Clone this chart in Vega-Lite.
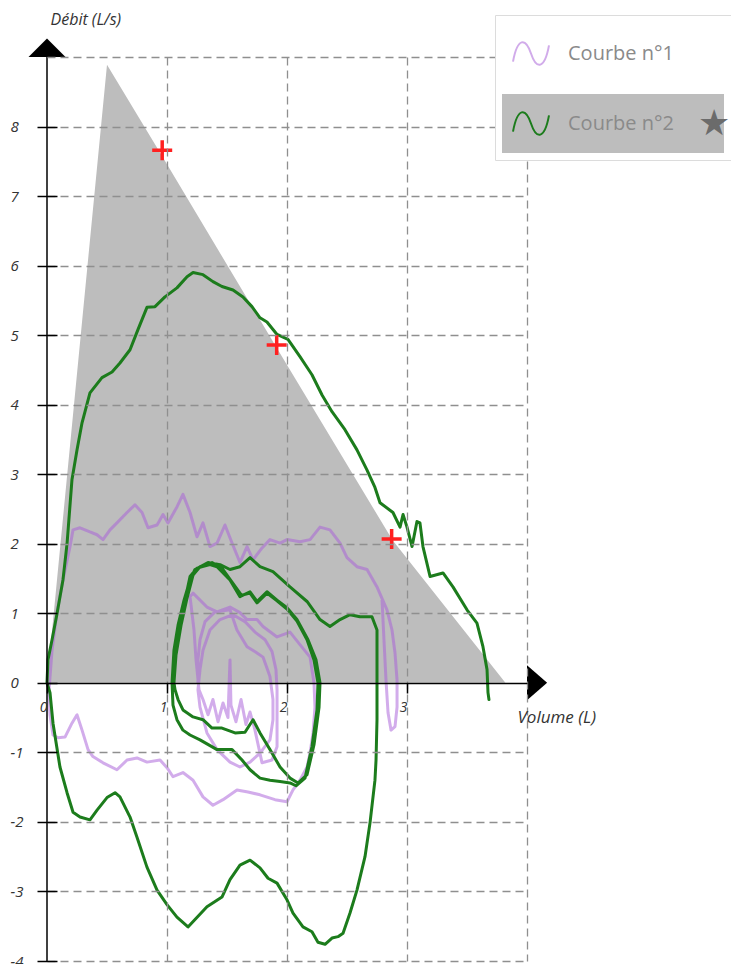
{
"$schema": "https://vega.github.io/schema/vega-lite/v6.json",
"autosize": "none",
"width": 480,
"height": 904,
"padding": {"left": 47, "top": 57, "right": 204, "bottom": 3},
"background": "white",
"config": {"view": {"stroke": null}, "font": "Open Sans"},
"datasets": {
"zone": [
{"vol": 0, "deb": 0}, {"vol": 0.5, "deb": 8.89}, {"vol": 0.95, "deb": 7.6}, {"vol": 1.91, "deb": 4.83}, {"vol": 2.88, "deb": 2.05}, {"vol": 3.82, "deb": 0}
],
"reperes": [
{"vol": 0.96, "deb": 7.66}, {"vol": 1.914, "deb": 4.86}, {"vol": 2.872, "deb": 2.07}
],
"courbes": [
{"c":"Courbe n°1","n":1,"vol":1.258,"deb":0},
{"c":"Courbe n°1","n":2,"vol":1.258,"deb":0.33},
{"c":"Courbe n°1","n":3,"vol":1.275,"deb":0.62},
{"c":"Courbe n°1","n":4,"vol":1.317,"deb":0.88},
{"c":"Courbe n°1","n":5,"vol":1.40,"deb":1.02},
{"c":"Courbe n°1","n":6,"vol":1.525,"deb":1.05},
{"c":"Courbe n°1","n":7,"vol":1.583,"deb":0.76},
{"c":"Courbe n°1","n":8,"vol":1.667,"deb":0.52},
{"c":"Courbe n°1","n":9,"vol":1.75,"deb":0.43},
{"c":"Courbe n°1","n":10,"vol":1.80,"deb":0.37},
{"c":"Courbe n°1","n":11,"vol":1.858,"deb":0.09},
{"c":"Courbe n°1","n":12,"vol":1.883,"deb":-0.24},
{"c":"Courbe n°1","n":13,"vol":1.883,"deb":-0.53},
{"c":"Courbe n°1","n":14,"vol":1.858,"deb":-0.82},
{"c":"Courbe n°1","n":15,"vol":1.775,"deb":-1.01},
{"c":"Courbe n°1","n":16,"vol":1.692,"deb":-1.14},
{"c":"Courbe n°1","n":17,"vol":1.608,"deb":-1.21},
{"c":"Courbe n°1","n":18,"vol":1.525,"deb":-1.14},
{"c":"Courbe n°1","n":19,"vol":1.417,"deb":-0.96},
{"c":"Courbe n°1","n":20,"vol":1.333,"deb":-0.72},
{"c":"Courbe n°1","n":21,"vol":1.275,"deb":-0.35},
{"c":"Courbe n°1","n":22,"vol":1.258,"deb":-0.10},
{"c":"Courbe n°1","n":23,"vol":1.275,"deb":0.19},
{"c":"Courbe n°1","n":24,"vol":1.30,"deb":0.47},
{"c":"Courbe n°1","n":25,"vol":1.358,"deb":0.76},
{"c":"Courbe n°1","n":26,"vol":1.442,"deb":0.91},
{"c":"Courbe n°1","n":27,"vol":1.55,"deb":0.98},
{"c":"Courbe n°1","n":28,"vol":1.65,"deb":0.88},
{"c":"Courbe n°1","n":29,"vol":1.733,"deb":0.73},
{"c":"Courbe n°1","n":30,"vol":1.817,"deb":0.62},
{"c":"Courbe n°1","n":31,"vol":1.875,"deb":0.45},
{"c":"Courbe n°1","n":32,"vol":1.908,"deb":0.19},
{"c":"Courbe n°1","n":33,"vol":1.917,"deb":-0.10},
{"c":"Courbe n°1","n":34,"vol":1.917,"deb":-0.43},
{"c":"Courbe n°1","n":35,"vol":1.917,"deb":-0.92},
{"c":"Courbe n°1","n":36,"vol":1.875,"deb":-1.11},
{"c":"Courbe n°1","n":37,"vol":1.792,"deb":-1.15},
{"c":"Courbe n°1","n":38,"vol":1.733,"deb":-0.68},
{"c":"Courbe n°1","n":39,"vol":1.692,"deb":-0.42},
{"c":"Courbe n°1","n":40,"vol":1.658,"deb":-0.60},
{"c":"Courbe n°1","n":41,"vol":1.617,"deb":-0.24},
{"c":"Courbe n°1","n":42,"vol":1.575,"deb":-0.56},
{"c":"Courbe n°1","n":43,"vol":1.533,"deb":-0.32},
{"c":"Courbe n°1","n":44,"vol":1.525,"deb":0.33},
{"c":"Courbe n°1","n":45,"vol":1.508,"deb":-0.50},
{"c":"Courbe n°1","n":46,"vol":1.467,"deb":-0.29},
{"c":"Courbe n°1","n":47,"vol":1.425,"deb":-0.56},
{"c":"Courbe n°1","n":48,"vol":1.383,"deb":-0.24},
{"c":"Courbe n°1","n":49,"vol":1.342,"deb":-0.46},
{"c":"Courbe n°1","n":50,"vol":1.30,"deb":-0.24},
{"c":"Courbe n°1","n":51,"vol":1.267,"deb":-0.10},
{"c":"Courbe n°1","n":52,"vol":1.242,"deb":0.33},
{"c":"Courbe n°1","n":53,"vol":1.225,"deb":0.76},
{"c":"Courbe n°1","n":54,"vol":1.192,"deb":1.24},
{"c":"Courbe n°1","n":55,"vol":1.217,"deb":1.29},
{"c":"Courbe n°1","n":56,"vol":1.333,"deb":1.09},
{"c":"Courbe n°1","n":57,"vol":1.417,"deb":1.02},
{"c":"Courbe n°1","n":58,"vol":1.525,"deb":1.09},
{"c":"Courbe n°1","n":59,"vol":1.608,"deb":1.01},
{"c":"Courbe n°1","n":60,"vol":1.667,"deb":0.91},
{"c":"Courbe n°1","n":61,"vol":1.75,"deb":0.91},
{"c":"Courbe n°1","n":62,"vol":1.80,"deb":0.81},
{"c":"Courbe n°1","n":63,"vol":1.917,"deb":0.66},
{"c":"Courbe n°1","n":64,"vol":2.025,"deb":0.73},
{"c":"Courbe n°1","n":65,"vol":2.108,"deb":0.55},
{"c":"Courbe n°1","n":66,"vol":2.192,"deb":0.37},
{"c":"Courbe n°1","n":67,"vol":2.225,"deb":0},
{"c":"Courbe n°1","n":68,"vol":2.233,"deb":-0.35},
{"c":"Courbe n°1","n":69,"vol":2.217,"deb":-0.72},
{"c":"Courbe n°1","n":70,"vol":2.192,"deb":-1.01},
{"c":"Courbe n°1","n":71,"vol":2.167,"deb":-1.21},
{"c":"Courbe n°1","n":72,"vol":2.108,"deb":-1.40},
{"c":"Courbe n°1","n":73,"vol":2.05,"deb":-1.54},
{"c":"Courbe n°1","n":74,"vol":2.0,"deb":-1.71},
{"c":"Courbe n°1","n":75,"vol":1.90,"deb":-1.68},
{"c":"Courbe n°1","n":76,"vol":1.775,"deb":-1.61},
{"c":"Courbe n°1","n":77,"vol":1.675,"deb":-1.57},
{"c":"Courbe n°1","n":78,"vol":1.583,"deb":-1.54},
{"c":"Courbe n°1","n":79,"vol":1.467,"deb":-1.68},
{"c":"Courbe n°1","n":80,"vol":1.383,"deb":-1.76},
{"c":"Courbe n°1","n":81,"vol":1.30,"deb":-1.64},
{"c":"Courbe n°1","n":82,"vol":1.217,"deb":-1.40},
{"c":"Courbe n°1","n":83,"vol":1.133,"deb":-1.29},
{"c":"Courbe n°1","n":84,"vol":1.05,"deb":-1.35},
{"c":"Courbe n°1","n":85,"vol":1.0,"deb":-1.22},
{"c":"Courbe n°1","n":86,"vol":0.942,"deb":-1.11},
{"c":"Courbe n°1","n":87,"vol":0.833,"deb":-1.14},
{"c":"Courbe n°1","n":88,"vol":0.75,"deb":-1.08},
{"c":"Courbe n°1","n":89,"vol":0.667,"deb":-1.11},
{"c":"Courbe n°1","n":90,"vol":0.583,"deb":-1.25},
{"c":"Courbe n°1","n":91,"vol":0.467,"deb":-1.15},
{"c":"Courbe n°1","n":92,"vol":0.383,"deb":-1.06},
{"c":"Courbe n°1","n":93,"vol":0.342,"deb":-0.96},
{"c":"Courbe n°1","n":94,"vol":0.292,"deb":-0.68},
{"c":"Courbe n°1","n":95,"vol":0.25,"deb":-0.46},
{"c":"Courbe n°1","n":96,"vol":0.208,"deb":-0.58},
{"c":"Courbe n°1","n":97,"vol":0.15,"deb":-0.78},
{"c":"Courbe n°1","n":98,"vol":0.092,"deb":-0.79},
{"c":"Courbe n°1","n":99,"vol":0.05,"deb":-0.75},
{"c":"Courbe n°1","n":100,"vol":0.025,"deb":-0.46},
{"c":"Courbe n°1","n":101,"vol":0.017,"deb":-0.10},
{"c":"Courbe n°1","n":102,"vol":0.042,"deb":0.47},
{"c":"Courbe n°1","n":103,"vol":0.083,"deb":1.01},
{"c":"Courbe n°1","n":104,"vol":0.133,"deb":1.48},
{"c":"Courbe n°1","n":105,"vol":0.192,"deb":1.96},
{"c":"Courbe n°1","n":106,"vol":0.217,"deb":2.20},
{"c":"Courbe n°1","n":107,"vol":0.275,"deb":2.23},
{"c":"Courbe n°1","n":108,"vol":0.358,"deb":2.17},
{"c":"Courbe n°1","n":109,"vol":0.417,"deb":2.13},
{"c":"Courbe n°1","n":110,"vol":0.467,"deb":2.06},
{"c":"Courbe n°1","n":111,"vol":0.525,"deb":2.20},
{"c":"Courbe n°1","n":112,"vol":0.583,"deb":2.30},
{"c":"Courbe n°1","n":113,"vol":0.667,"deb":2.45},
{"c":"Courbe n°1","n":114,"vol":0.733,"deb":2.56},
{"c":"Courbe n°1","n":115,"vol":0.792,"deb":2.45},
{"c":"Courbe n°1","n":116,"vol":0.842,"deb":2.23},
{"c":"Courbe n°1","n":117,"vol":0.917,"deb":2.27},
{"c":"Courbe n°1","n":118,"vol":0.967,"deb":2.42},
{"c":"Courbe n°1","n":119,"vol":1.008,"deb":2.30},
{"c":"Courbe n°1","n":120,"vol":1.083,"deb":2.53},
{"c":"Courbe n°1","n":121,"vol":1.133,"deb":2.71},
{"c":"Courbe n°1","n":122,"vol":1.192,"deb":2.45},
{"c":"Courbe n°1","n":123,"vol":1.25,"deb":2.10},
{"c":"Courbe n°1","n":124,"vol":1.30,"deb":2.30},
{"c":"Courbe n°1","n":125,"vol":1.358,"deb":1.96},
{"c":"Courbe n°1","n":126,"vol":1.417,"deb":2.01},
{"c":"Courbe n°1","n":127,"vol":1.483,"deb":2.27},
{"c":"Courbe n°1","n":128,"vol":1.542,"deb":2.01},
{"c":"Courbe n°1","n":129,"vol":1.608,"deb":1.73},
{"c":"Courbe n°1","n":130,"vol":1.667,"deb":1.96},
{"c":"Courbe n°1","n":131,"vol":1.717,"deb":1.77},
{"c":"Courbe n°1","n":132,"vol":1.792,"deb":1.94},
{"c":"Courbe n°1","n":133,"vol":1.858,"deb":2.06},
{"c":"Courbe n°1","n":134,"vol":1.942,"deb":2.01},
{"c":"Courbe n°1","n":135,"vol":2.0,"deb":2.06},
{"c":"Courbe n°1","n":136,"vol":2.108,"deb":2.03},
{"c":"Courbe n°1","n":137,"vol":2.192,"deb":2.06},
{"c":"Courbe n°1","n":138,"vol":2.275,"deb":2.24},
{"c":"Courbe n°1","n":139,"vol":2.358,"deb":2.20},
{"c":"Courbe n°1","n":140,"vol":2.442,"deb":2.01},
{"c":"Courbe n°1","n":141,"vol":2.50,"deb":1.80},
{"c":"Courbe n°1","n":142,"vol":2.583,"deb":1.67},
{"c":"Courbe n°1","n":143,"vol":2.667,"deb":1.63},
{"c":"Courbe n°1","n":144,"vol":2.75,"deb":1.38},
{"c":"Courbe n°1","n":145,"vol":2.833,"deb":1.05},
{"c":"Courbe n°1","n":146,"vol":2.875,"deb":0.76},
{"c":"Courbe n°1","n":147,"vol":2.90,"deb":0.43},
{"c":"Courbe n°1","n":148,"vol":2.917,"deb":0.04},
{"c":"Courbe n°1","n":149,"vol":2.917,"deb":-0.35},
{"c":"Courbe n°1","n":150,"vol":2.90,"deb":-0.63},
{"c":"Courbe n°1","n":151,"vol":2.867,"deb":-0.68},
{"c":"Courbe n°1","n":152,"vol":2.842,"deb":-0.43},
{"c":"Courbe n°1","n":153,"vol":2.825,"deb":0.04},
{"c":"Courbe n°1","n":154,"vol":2.808,"deb":0.62},
{"c":"Courbe n°1","n":155,"vol":2.792,"deb":1.19},
{"c":"Courbe n°2","n":1,"vol":1.05,"deb":0},
{"c":"Courbe n°2","n":2,"vol":1.067,"deb":0.33},
{"c":"Courbe n°2","n":3,"vol":1.108,"deb":0.76},
{"c":"Courbe n°2","n":4,"vol":1.15,"deb":1.19},
{"c":"Courbe n°2","n":5,"vol":1.192,"deb":1.53},
{"c":"Courbe n°2","n":6,"vol":1.25,"deb":1.65},
{"c":"Courbe n°2","n":7,"vol":1.358,"deb":1.70},
{"c":"Courbe n°2","n":8,"vol":1.417,"deb":1.67},
{"c":"Courbe n°2","n":9,"vol":1.525,"deb":1.48},
{"c":"Courbe n°2","n":10,"vol":1.608,"deb":1.24},
{"c":"Courbe n°2","n":11,"vol":1.692,"deb":1.31},
{"c":"Courbe n°2","n":12,"vol":1.75,"deb":1.17},
{"c":"Courbe n°2","n":13,"vol":1.833,"deb":1.31},
{"c":"Courbe n°2","n":14,"vol":1.917,"deb":1.19},
{"c":"Courbe n°2","n":15,"vol":2.0,"deb":1.08},
{"c":"Courbe n°2","n":16,"vol":2.083,"deb":0.91},
{"c":"Courbe n°2","n":17,"vol":2.175,"deb":0.62},
{"c":"Courbe n°2","n":18,"vol":2.242,"deb":0.33},
{"c":"Courbe n°2","n":19,"vol":2.275,"deb":0},
{"c":"Courbe n°2","n":20,"vol":2.267,"deb":-0.35},
{"c":"Courbe n°2","n":21,"vol":2.225,"deb":-0.89},
{"c":"Courbe n°2","n":22,"vol":2.167,"deb":-1.32},
{"c":"Courbe n°2","n":23,"vol":2.092,"deb":-1.44},
{"c":"Courbe n°2","n":24,"vol":2.025,"deb":-1.37},
{"c":"Courbe n°2","n":25,"vol":1.942,"deb":-1.21},
{"c":"Courbe n°2","n":26,"vol":1.858,"deb":-0.96},
{"c":"Courbe n°2","n":27,"vol":1.775,"deb":-0.72},
{"c":"Courbe n°2","n":28,"vol":1.717,"deb":-0.53},
{"c":"Courbe n°2","n":29,"vol":1.65,"deb":-0.71},
{"c":"Courbe n°2","n":30,"vol":1.567,"deb":-0.72},
{"c":"Courbe n°2","n":31,"vol":1.458,"deb":-0.65},
{"c":"Courbe n°2","n":32,"vol":1.375,"deb":-0.65},
{"c":"Courbe n°2","n":33,"vol":1.30,"deb":-0.53},
{"c":"Courbe n°2","n":34,"vol":1.217,"deb":-0.49},
{"c":"Courbe n°2","n":35,"vol":1.133,"deb":-0.39},
{"c":"Courbe n°2","n":36,"vol":1.092,"deb":-0.24},
{"c":"Courbe n°2","n":37,"vol":1.067,"deb":-0.10},
{"c":"Courbe n°2","n":38,"vol":1.058,"deb":0},
{"c":"Courbe n°2","n":39,"vol":1.075,"deb":0.40},
{"c":"Courbe n°2","n":40,"vol":1.117,"deb":0.83},
{"c":"Courbe n°2","n":41,"vol":1.167,"deb":1.22},
{"c":"Courbe n°2","n":42,"vol":1.217,"deb":1.55},
{"c":"Courbe n°2","n":43,"vol":1.275,"deb":1.67},
{"c":"Courbe n°2","n":44,"vol":1.375,"deb":1.73},
{"c":"Courbe n°2","n":45,"vol":1.458,"deb":1.65},
{"c":"Courbe n°2","n":46,"vol":1.542,"deb":1.45},
{"c":"Courbe n°2","n":47,"vol":1.62,"deb":1.26},
{"c":"Courbe n°2","n":48,"vol":1.692,"deb":1.29},
{"c":"Courbe n°2","n":49,"vol":1.75,"deb":1.15},
{"c":"Courbe n°2","n":50,"vol":1.833,"deb":1.29},
{"c":"Courbe n°2","n":51,"vol":1.917,"deb":1.18},
{"c":"Courbe n°2","n":52,"vol":2.0,"deb":1.06},
{"c":"Courbe n°2","n":53,"vol":2.083,"deb":0.89},
{"c":"Courbe n°2","n":54,"vol":2.167,"deb":0.62},
{"c":"Courbe n°2","n":55,"vol":2.225,"deb":0.33},
{"c":"Courbe n°2","n":56,"vol":2.258,"deb":0},
{"c":"Courbe n°2","n":57,"vol":2.25,"deb":-0.39},
{"c":"Courbe n°2","n":58,"vol":2.208,"deb":-0.92},
{"c":"Courbe n°2","n":59,"vol":2.15,"deb":-1.37},
{"c":"Courbe n°2","n":60,"vol":2.075,"deb":-1.48},
{"c":"Courbe n°2","n":61,"vol":2.025,"deb":-1.44},
{"c":"Courbe n°2","n":62,"vol":1.942,"deb":-1.42},
{"c":"Courbe n°2","n":63,"vol":1.858,"deb":-1.40},
{"c":"Courbe n°2","n":64,"vol":1.775,"deb":-1.37},
{"c":"Courbe n°2","n":65,"vol":1.692,"deb":-1.25},
{"c":"Courbe n°2","n":66,"vol":1.625,"deb":-1.11},
{"c":"Courbe n°2","n":67,"vol":1.542,"deb":-0.96},
{"c":"Courbe n°2","n":68,"vol":1.417,"deb":-0.96},
{"c":"Courbe n°2","n":69,"vol":1.275,"deb":-0.82},
{"c":"Courbe n°2","n":70,"vol":1.192,"deb":-0.75},
{"c":"Courbe n°2","n":71,"vol":1.133,"deb":-0.68},
{"c":"Courbe n°2","n":72,"vol":1.083,"deb":-0.53},
{"c":"Courbe n°2","n":73,"vol":1.05,"deb":-0.32},
{"c":"Courbe n°2","n":74,"vol":1.042,"deb":0},
{"c":"Courbe n°2","n":75,"vol":1.058,"deb":0.47},
{"c":"Courbe n°2","n":76,"vol":1.092,"deb":0.83},
{"c":"Courbe n°2","n":77,"vol":1.142,"deb":1.19},
{"c":"Courbe n°2","n":78,"vol":1.192,"deb":1.48},
{"c":"Courbe n°2","n":79,"vol":1.233,"deb":1.63},
{"c":"Courbe n°2","n":80,"vol":1.342,"deb":1.73},
{"c":"Courbe n°2","n":81,"vol":1.442,"deb":1.70},
{"c":"Courbe n°2","n":82,"vol":1.525,"deb":1.63},
{"c":"Courbe n°2","n":83,"vol":1.608,"deb":1.67},
{"c":"Courbe n°2","n":84,"vol":1.692,"deb":1.80},
{"c":"Courbe n°2","n":85,"vol":1.775,"deb":1.67},
{"c":"Courbe n°2","n":86,"vol":1.883,"deb":1.60},
{"c":"Courbe n°2","n":87,"vol":2.025,"deb":1.38},
{"c":"Courbe n°2","n":88,"vol":2.167,"deb":1.17},
{"c":"Courbe n°2","n":89,"vol":2.275,"deb":0.91},
{"c":"Courbe n°2","n":90,"vol":2.358,"deb":0.81},
{"c":"Courbe n°2","n":91,"vol":2.442,"deb":0.91},
{"c":"Courbe n°2","n":92,"vol":2.525,"deb":0.98},
{"c":"Courbe n°2","n":93,"vol":2.608,"deb":0.95},
{"c":"Courbe n°2","n":94,"vol":2.708,"deb":0.95},
{"c":"Courbe n°2","n":95,"vol":2.75,"deb":0.76},
{"c":"Courbe n°2","n":96,"vol":2.75,"deb":0.04},
{"c":"Courbe n°2","n":97,"vol":2.75,"deb":-0.53},
{"c":"Courbe n°2","n":98,"vol":2.742,"deb":-1.11},
{"c":"Courbe n°2","n":99,"vol":2.733,"deb":-1.40},
{"c":"Courbe n°2","n":100,"vol":2.692,"deb":-2.01},
{"c":"Courbe n°2","n":101,"vol":2.65,"deb":-2.50},
{"c":"Courbe n°2","n":102,"vol":2.583,"deb":-2.98},
{"c":"Courbe n°2","n":103,"vol":2.525,"deb":-3.31},
{"c":"Courbe n°2","n":104,"vol":2.467,"deb":-3.60},
{"c":"Courbe n°2","n":105,"vol":2.425,"deb":-3.65},
{"c":"Courbe n°2","n":106,"vol":2.375,"deb":-3.67},
{"c":"Courbe n°2","n":107,"vol":2.317,"deb":-3.76},
{"c":"Courbe n°2","n":108,"vol":2.258,"deb":-3.73},
{"c":"Courbe n°2","n":109,"vol":2.208,"deb":-3.58},
{"c":"Courbe n°2","n":110,"vol":2.133,"deb":-3.51},
{"c":"Courbe n°2","n":111,"vol":2.05,"deb":-3.31},
{"c":"Courbe n°2","n":112,"vol":2.0,"deb":-3.12},
{"c":"Courbe n°2","n":113,"vol":1.917,"deb":-2.88},
{"c":"Courbe n°2","n":114,"vol":1.842,"deb":-2.81},
{"c":"Courbe n°2","n":115,"vol":1.775,"deb":-2.66},
{"c":"Courbe n°2","n":116,"vol":1.692,"deb":-2.55},
{"c":"Courbe n°2","n":117,"vol":1.608,"deb":-2.62},
{"c":"Courbe n°2","n":118,"vol":1.525,"deb":-2.83},
{"c":"Courbe n°2","n":119,"vol":1.458,"deb":-3.08},
{"c":"Courbe n°2","n":120,"vol":1.333,"deb":-3.22},
{"c":"Courbe n°2","n":121,"vol":1.175,"deb":-3.51},
{"c":"Courbe n°2","n":122,"vol":1.083,"deb":-3.37},
{"c":"Courbe n°2","n":123,"vol":1.0,"deb":-3.19},
{"c":"Courbe n°2","n":124,"vol":0.917,"deb":-2.98},
{"c":"Courbe n°2","n":125,"vol":0.833,"deb":-2.65},
{"c":"Courbe n°2","n":126,"vol":0.75,"deb":-2.22},
{"c":"Courbe n°2","n":127,"vol":0.692,"deb":-1.93},
{"c":"Courbe n°2","n":128,"vol":0.608,"deb":-1.64},
{"c":"Courbe n°2","n":129,"vol":0.567,"deb":-1.58},
{"c":"Courbe n°2","n":130,"vol":0.5,"deb":-1.65},
{"c":"Courbe n°2","n":131,"vol":0.417,"deb":-1.83},
{"c":"Courbe n°2","n":132,"vol":0.358,"deb":-1.97},
{"c":"Courbe n°2","n":133,"vol":0.275,"deb":-1.93},
{"c":"Courbe n°2","n":134,"vol":0.217,"deb":-1.86},
{"c":"Courbe n°2","n":135,"vol":0.167,"deb":-1.58},
{"c":"Courbe n°2","n":136,"vol":0.108,"deb":-1.21},
{"c":"Courbe n°2","n":137,"vol":0.05,"deb":-0.58},
{"c":"Courbe n°2","n":138,"vol":0.025,"deb":-0.14},
{"c":"Courbe n°2","n":139,"vol":0,"deb":0},
{"c":"Courbe n°2","n":140,"vol":0.008,"deb":0.33},
{"c":"Courbe n°2","n":141,"vol":0.042,"deb":0.62},
{"c":"Courbe n°2","n":142,"vol":0.083,"deb":0.99},
{"c":"Courbe n°2","n":143,"vol":0.133,"deb":1.48},
{"c":"Courbe n°2","n":144,"vol":0.167,"deb":2.0},
{"c":"Courbe n°2","n":145,"vol":0.208,"deb":2.92},
{"c":"Courbe n°2","n":146,"vol":0.25,"deb":3.35},
{"c":"Courbe n°2","n":147,"vol":0.292,"deb":3.74},
{"c":"Courbe n°2","n":148,"vol":0.358,"deb":4.17},
{"c":"Courbe n°2","n":149,"vol":0.458,"deb":4.39},
{"c":"Courbe n°2","n":150,"vol":0.542,"deb":4.47},
{"c":"Courbe n°2","n":151,"vol":0.608,"deb":4.60},
{"c":"Courbe n°2","n":152,"vol":0.692,"deb":4.79},
{"c":"Courbe n°2","n":153,"vol":0.758,"deb":5.08},
{"c":"Courbe n°2","n":154,"vol":0.833,"deb":5.40},
{"c":"Courbe n°2","n":155,"vol":0.9,"deb":5.41},
{"c":"Courbe n°2","n":156,"vol":0.983,"deb":5.55},
{"c":"Courbe n°2","n":157,"vol":1.083,"deb":5.68},
{"c":"Courbe n°2","n":158,"vol":1.167,"deb":5.84},
{"c":"Courbe n°2","n":159,"vol":1.217,"deb":5.90},
{"c":"Courbe n°2","n":160,"vol":1.3,"deb":5.87},
{"c":"Courbe n°2","n":161,"vol":1.383,"deb":5.77},
{"c":"Courbe n°2","n":162,"vol":1.458,"deb":5.70},
{"c":"Courbe n°2","n":163,"vol":1.55,"deb":5.65},
{"c":"Courbe n°2","n":164,"vol":1.633,"deb":5.55},
{"c":"Courbe n°2","n":165,"vol":1.708,"deb":5.41},
{"c":"Courbe n°2","n":166,"vol":1.775,"deb":5.25},
{"c":"Courbe n°2","n":167,"vol":1.833,"deb":5.19},
{"c":"Courbe n°2","n":168,"vol":1.917,"deb":5.01},
{"c":"Courbe n°2","n":169,"vol":2.008,"deb":4.94},
{"c":"Courbe n°2","n":170,"vol":2.108,"deb":4.69},
{"c":"Courbe n°2","n":171,"vol":2.208,"deb":4.43},
{"c":"Courbe n°2","n":172,"vol":2.292,"deb":4.14},
{"c":"Courbe n°2","n":173,"vol":2.375,"deb":3.90},
{"c":"Courbe n°2","n":174,"vol":2.483,"deb":3.64},
{"c":"Courbe n°2","n":175,"vol":2.583,"deb":3.35},
{"c":"Courbe n°2","n":176,"vol":2.667,"deb":3.06},
{"c":"Courbe n°2","n":177,"vol":2.733,"deb":2.81},
{"c":"Courbe n°2","n":178,"vol":2.775,"deb":2.59},
{"c":"Courbe n°2","n":179,"vol":2.883,"deb":2.45},
{"c":"Courbe n°2","n":180,"vol":2.942,"deb":2.24},
{"c":"Courbe n°2","n":181,"vol":2.967,"deb":2.42},
{"c":"Courbe n°2","n":182,"vol":3.0,"deb":2.24},
{"c":"Courbe n°2","n":183,"vol":3.042,"deb":1.96},
{"c":"Courbe n°2","n":184,"vol":3.083,"deb":2.32},
{"c":"Courbe n°2","n":185,"vol":3.108,"deb":2.30},
{"c":"Courbe n°2","n":186,"vol":3.133,"deb":1.96},
{"c":"Courbe n°2","n":187,"vol":3.192,"deb":1.53},
{"c":"Courbe n°2","n":188,"vol":3.3,"deb":1.58},
{"c":"Courbe n°2","n":189,"vol":3.383,"deb":1.38},
{"c":"Courbe n°2","n":190,"vol":3.5,"deb":1.05},
{"c":"Courbe n°2","n":191,"vol":3.583,"deb":0.86},
{"c":"Courbe n°2","n":192,"vol":3.633,"deb":0.52},
{"c":"Courbe n°2","n":193,"vol":3.667,"deb":0.19},
{"c":"Courbe n°2","n":194,"vol":3.675,"deb":-0.14},
{"c":"Courbe n°2","n":195,"vol":3.683,"deb":-0.24}
]
},
"layer": [
{
"data": {"name": "zone"},
"mark": {"type": "area", "color": "#bdbdbd", "opacity": 1},
"encoding": {
"x": {"field": "vol", "type": "quantitative", "scale": {"domain": [0, 4], "nice": false, "zero": false},
"axis": {"orient": "bottom", "offset": -278, "values": [0, 1, 2, 3, 4],
"domain": true, "domainColor": "black", "domainWidth": 1.5,
"ticks": true, "tickSize": 10, "tickWidth": 1.5,
"tickColor": {"condition": {"test": "datum.value === 4", "value": "transparent"}, "value": "black"},
"grid": true, "gridColor": {"condition": {"test": "datum.value === 0", "value": "transparent"}, "value": "#8f8f8f"},
"gridDash": [8, 5], "gridWidth": 1.3,
"labelExpr": "datum.value === 4 ? '' : '' + datum.value",
"labelAlign": "right", "labelBaseline": "top", "labelPadding": 7, "labelDx": -3,
"labelFont": "Open Sans", "labelFontStyle": "italic", "labelFontSize": 14, "labelColor": "#333333",
"labelFlush": false, "labelOverlap": false,
"title": "Volume (L)", "titleX": 470, "titleY": 34, "titleAlign": "left", "titleBaseline": "middle", "titleAngle": 0,
"titleFont": "Open Sans", "titleFontStyle": "italic", "titleFontWeight": "normal", "titleFontSize": 17, "titleColor": "#333333",
"zindex": 1}},
"y": {"field": "deb", "type": "quantitative", "scale": {"domain": [-4, 9], "nice": false, "zero": false},
"axis": {"orient": "left", "offset": -10, "values": [-4, -3, -2, -1, 0, 1, 2, 3, 4, 5, 6, 7, 8, 9],
"domain": false, "ticks": true, "tickSize": 20, "tickWidth": 1.5,
"tickColor": {"condition": {"test": "datum.value === 9", "value": "transparent"}, "value": "black"},
"grid": true, "gridColor": {"condition": {"test": "datum.value === 0", "value": "transparent"}, "value": "#8f8f8f"},
"gridDash": [8, 5], "gridWidth": 1.3,
"labelExpr": "datum.value === 9 ? '' : '' + datum.value",
"labelAlign": "left", "labelBaseline": "middle", "labelPadding": 27,
"labelFont": "Open Sans", "labelFontStyle": "italic", "labelFontSize": 15, "labelColor": "#333333",
"labelFlush": false, "labelOverlap": false,
"title": "Débit (L/s)", "titleX": -7, "titleY": -38, "titleAlign": "left", "titleBaseline": "middle", "titleAngle": 0,
"titleFont": "Open Sans", "titleFontStyle": "italic", "titleFontWeight": "normal", "titleFontSize": 16, "titleColor": "#333333",
"zindex": 1}},
"y2": {"datum": 0}
}
},
{
"data": {"name": "courbes"},
"mark": {"type": "line", "strokeWidth": 3, "strokeJoin": "round", "strokeCap": "round"},
"encoding": {
"x": {"field": "vol", "type": "quantitative"},
"y": {"field": "deb", "type": "quantitative"},
"order": {"field": "n", "type": "quantitative"},
"color": {"field": "c", "type": "nominal",
"scale": {"domain": ["Courbe n°1", "Courbe n°2"], "range": ["#a860d8", "#1c7c1c"]},
"legend": {"orient": "none", "legendX": 448, "legendY": -42, "title": null, "direction": "vertical",
"fillColor": "transparent", "strokeColor": "transparent", "padding": 7, "rowPadding": 7, "clipHeight": 63,
"symbolOffset": 10, "labelOffset": 18,
"symbolType": "M-1,0.45C-0.75,-0.9 -0.3,-0.9 0,0C0.3,0.9 0.75,0.9 1,-0.45",
"symbolSize": 1296, "symbolStrokeWidth": 2, "symbolFillColor": "transparent", "symbolOpacity": 1,
"labelFont": "Open Sans", "labelFontSize": 20, "labelColor": "#8a8a8a", "labelLimit": 400,
"zindex": 3}},
"opacity": {"field": "c", "type": "nominal", "scale": {"domain": ["Courbe n°1", "Courbe n°2"], "range": [0.52, 1]}, "legend": null}
}
},
{
"data": {"values": [{}]},
"mark": {"type": "point", "filled": true, "fill": "#bdbdbd", "stroke": "#7f7f7f", "strokeWidth": 2, "opacity": 0},
"encoding": {
"x": {"datum": 0},
"y": {"datum": 0},
"shape": {"datum": "Courbe n°2", "type": "nominal",
"scale": {"domain": ["Courbe n°2"], "range": ["M-1,-0.266L1,-0.266L1,0.266L-1,0.266Z"]},
"legend": {"orient": "none", "legendX": 448, "legendY": -42, "title": " ", "titleFontSize": 1, "titlePadding": 71,
"fillColor": "white", "strokeColor": "#dcdcdc", "padding": 5, "clipHeight": 63,
"symbolSize": 49284, "symbolOffset": 1, "symbolStrokeWidth": 2, "symbolStrokeColor": "#7f7f7f", "symbolFillColor": "#bdbdbd", "symbolOpacity": 1,
"labelExpr": "'★'", "labelOffset": -27, "labelFont": "DejaVu Sans", "labelFontSize": 36, "labelColor": "#6b6b6b",
"zindex": 2}}
}
},
{
"data": {"name": "reperes"},
"mark": {"type": "point", "shape": "M-1,0L1,0M0,-1L0,1", "size": 400, "filled": false, "color": "#ff2020", "strokeWidth": 3.5, "opacity": 1},
"encoding": {
"x": {"field": "vol", "type": "quantitative"},
"y": {"field": "deb", "type": "quantitative"}
}
},
{
"data": {"values": [{}]},
"mark": {"type": "rule", "color": "black", "strokeWidth": 1.5},
"encoding": {"x": {"datum": 0}, "y": {"datum": -4}, "y2": {"datum": 9}}
},
{
"data": {"values": [{}]},
"mark": {"type": "point", "shape": "M-1,0L1,0L0,-1Z", "size": 1369, "filled": true, "color": "black", "opacity": 1},
"encoding": {"x": {"datum": 0}, "y": {"datum": 9}}
},
{
"data": {"values": [{}]},
"mark": {"type": "point", "shape": "M0,-1L0,1L1.15,0Z", "size": 1225, "filled": true, "color": "black", "opacity": 1},
"encoding": {"x": {"datum": 4}, "y": {"datum": 0}}
}
]
}
